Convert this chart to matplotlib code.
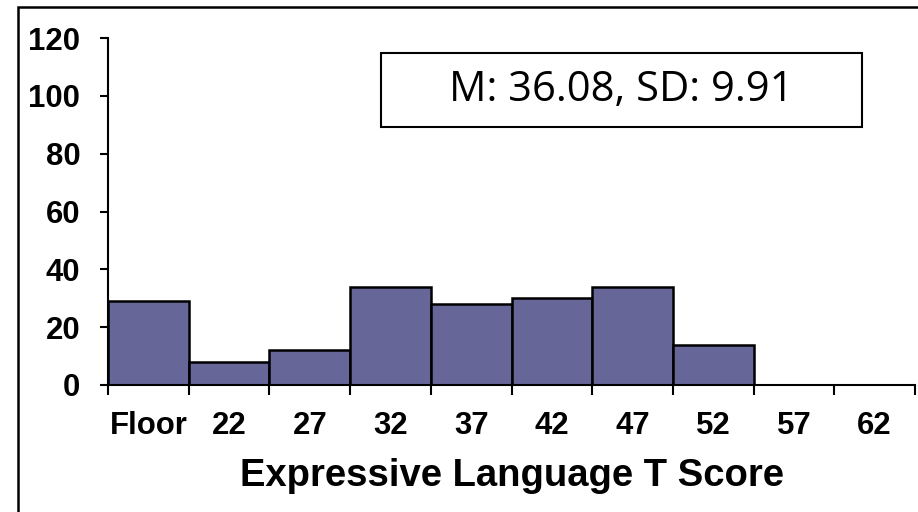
import matplotlib
matplotlib.use("Agg")
import matplotlib.pyplot as plt
from matplotlib.patches import Rectangle
import numpy as np

# histogram counts per T score bin
bins = ["Floor", "22", "27", "32", "37", "42", "47", "52", "57", "62"]
counts = [29, 8, 12, 34, 28, 30, 34, 14, 0, 0]
stats_text = "M: 36.08, SD: 9.91"

bar_color = "#666699"
tick_font = "Liberation Sans"

fig = plt.figure(figsize=(9.18, 5.12), dpi=100)
ax = fig.add_axes([108 / 918, 1 - 385 / 512, (915 - 108) / 918, (385 - 38) / 512])

x = np.arange(len(bins))
ax.bar(x + 0.5, counts, width=1.0, color=bar_color, edgecolor="black", linewidth=1.8)

ax.set_xlim(0, len(bins))
ax.set_ylim(0, 120)
ax.set_yticks(range(0, 121, 20))

# labels sit under the bar centres, tick marks at the bin edges
ax.set_xticks(x + 0.5)
ax.set_xticklabels(bins)
ax.set_xticks(np.arange(len(bins) + 1), minor=True)
ax.tick_params(axis="x", which="major", length=0, pad=19)
ax.tick_params(axis="x", which="minor", length=7, width=1.5, direction="out")
ax.tick_params(axis="y", length=6, width=1.5, direction="out", pad=14)

for lab in ax.get_xticklabels() + ax.get_yticklabels():
    lab.set_fontfamily(tick_font)
    lab.set_fontweight("bold")
    lab.set_fontsize(22.4)

ax.spines["top"].set_visible(False)
ax.spines["right"].set_visible(False)
ax.spines["left"].set_linewidth(1.5)
ax.spines["bottom"].set_linewidth(1.5)

ax.set_xlabel("Expressive Language T Score", fontfamily=tick_font,
              fontweight="bold", fontsize=27.5, labelpad=12)

# stats box
fig.patches.append(Rectangle((381 / 918, 1 - 127 / 512), (862 - 381) / 918, (127 - 53) / 512,
                             transform=fig.transFigure, fill=False,
                             edgecolor="black", linewidth=1.5))
fig.text(621.5 / 918, 1 - 90 / 512, stats_text, fontfamily="Open Sans",
         fontsize=30, ha="center", va="center")

# outer chart border
fig.patches.append(Rectangle((18 / 918, -0.1), 1.2, 1.1 - 7 / 512,
                             transform=fig.transFigure, fill=False,
                             edgecolor="black", linewidth=1.8))

fig.savefig("out.png", dpi=100)
